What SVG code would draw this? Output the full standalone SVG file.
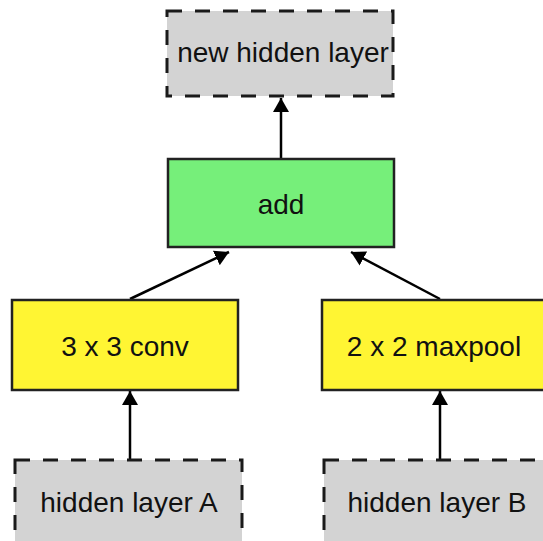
<svg xmlns="http://www.w3.org/2000/svg" width="543" height="541" viewBox="0 0 543 541">
<style>
.dash{fill:#d3d3d3;stroke:#1a1a1a;stroke-width:3;stroke-dasharray:15 13}
.op{stroke:#222;stroke-width:2.5}
.t{font-family:"Liberation Sans",Arial,sans-serif;font-size:28px;fill:#111;text-anchor:middle}
.c{stroke:#000;stroke-width:2.5;fill:none}
</style>
<defs>
<marker id="ah" viewBox="0 0 14 16" refX="14" refY="8" markerWidth="14" markerHeight="16" markerUnits="userSpaceOnUse" orient="auto">
<path d="M0,0 L14,8 L0,16 z" fill="#000"/>
</marker>
</defs>
<rect width="543" height="541" fill="#fff"/>
<g id="connectors">
<line class="c" x1="281" y1="158" x2="281" y2="98" marker-end="url(#ah)"/>
<line class="c" x1="130" y1="299" x2="229" y2="252" marker-end="url(#ah)"/>
<line class="c" x1="440" y1="299" x2="351" y2="252" marker-end="url(#ah)"/>
<line class="c" x1="130" y1="460" x2="130" y2="391" marker-end="url(#ah)"/>
<line class="c" x1="440" y1="460" x2="440" y2="391" marker-end="url(#ah)"/>
</g>
<g id="new-hidden-layer">
<rect class="dash" x="167" y="11" width="226" height="85"/>
<text class="t" x="283" y="62">new hidden layer</text>
</g>
<g id="add">
<rect class="op" x="168" y="159" width="226" height="88" fill="#76ef7a"/>
<text class="t" x="281" y="214">add</text>
</g>
<g id="conv">
<rect class="op" x="12" y="300" width="226" height="90" fill="#fff533"/>
<text class="t" x="125" y="356">3 x 3 conv</text>
</g>
<g id="maxpool">
<rect class="op" x="322" y="300" width="226" height="90" fill="#fff533"/>
<text class="t" x="434" y="356">2 x 2 maxpool</text>
</g>
<g id="hidden-a">
<rect class="dash" x="15" y="460" width="227" height="88"/>
<text class="t" x="129" y="512">hidden layer A</text>
</g>
<g id="hidden-b">
<rect class="dash" x="324" y="460" width="227" height="88"/>
<text class="t" x="437" y="512">hidden layer B</text>
</g>
</svg>
